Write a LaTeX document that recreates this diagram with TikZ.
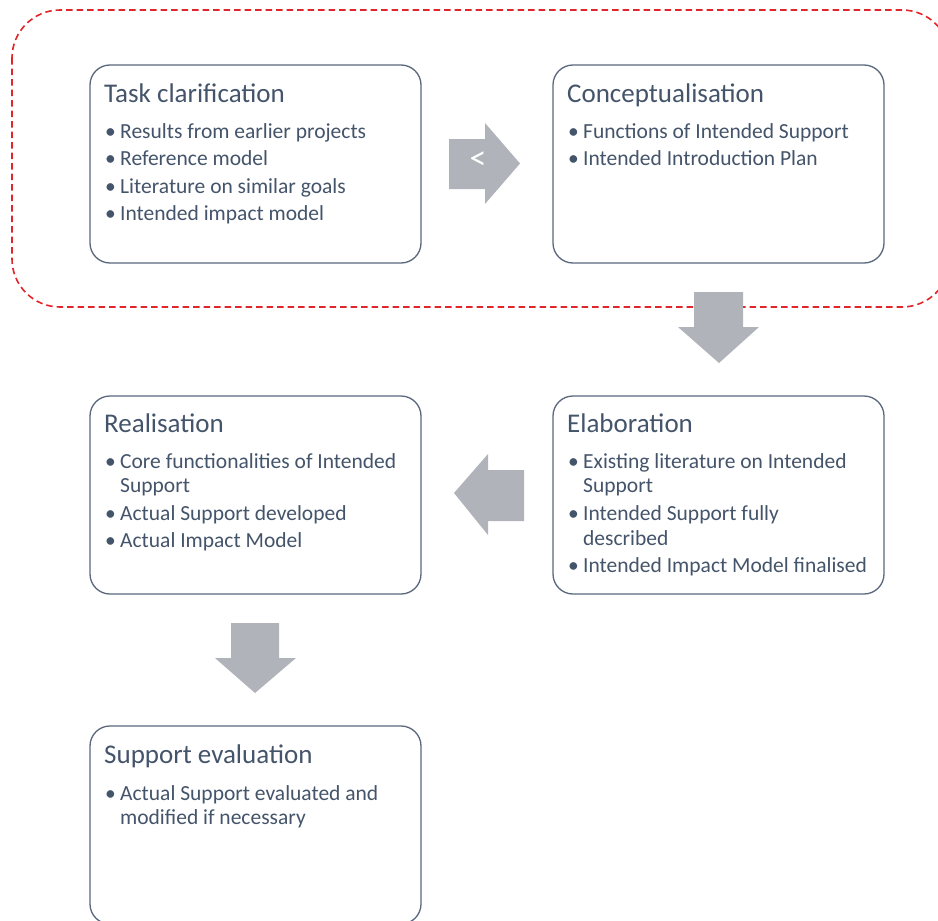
\documentclass[tikz,border=0pt]{standalone}
\usepackage{fontspec}
\setmainfont{Carlito}
\definecolor{slate}{HTML}{44546A}
\definecolor{boxline}{HTML}{5A677C}
\definecolor{arrowgrey}{RGB}{176,179,186}
\definecolor{dashred}{HTML}{E0262A}
\begin{document}
\begin{tikzpicture}[x=1pt,y=-1pt,
  stage/.style={draw=boxline, line width=1.3pt, rounded corners=20pt, fill=white,
    minimum width=331pt, minimum height=198pt, inner sep=0pt},
  title/.style={anchor=base west, inner sep=0pt, text=slate, font=\fontsize{27}{32}\selectfont},
  item/.style={anchor=base west, inner sep=0pt, text=slate, font=\fontsize{21.5}{26}\selectfont},
  blockarrow/.style={fill=arrowgrey, draw=none}]
\useasboundingbox (0,0) rectangle (938,921);
\clip (0,0) rectangle (938,921);

% dashed frame around the first two stages
\draw[dashred, line width=1.6pt, dash pattern=on 6.5pt off 4pt, rounded corners=48pt]
  (12,10) rectangle (950,307);

% stage boxes
\node[stage] (tc) at (255.5,164) {};
\node[stage] (cp) at (718.5,164) {};
\node[stage] (el) at (718.5,495) {};
\node[stage] (re) at (255.5,495) {};
\node[stage] (se) at (255.5,825) {};

% Task clarification
\node[title] (tct) at (104,102) {Task clarification};
\node[item] (tcb1) at (105,138) {•}; \node[item] (tc1) at (120,138) {Results from earlier projects};
\node[item] (tcb2) at (105,165.5) {•}; \node[item] (tc2) at (120,165.5) {Reference model};
\node[item] (tcb3) at (105,193) {•}; \node[item] (tc3) at (120,193) {Literature on similar goals};
\node[item] (tcb4) at (105,220) {•}; \node[item] (tc4) at (120,220) {Intended impact model};

% Conceptualisation
\node[title] (cpt) at (567,102) {Conceptualisation};
\node[item] (cpb1) at (568,138) {•}; \node[item] (cp1) at (583,138) {Functions of Intended Support};
\node[item] (cpb2) at (568,165.5) {•}; \node[item] (cp2) at (583,165.5) {Intended Introduction Plan};

% Elaboration
\node[title] (elt) at (567,432) {Elaboration};
\node[item] (elb1) at (568,468) {•}; \node[item] (el1) at (583,468) {Existing literature on Intended};
\node[item] (el1b) at (583,492) {Support};
\node[item] (elb2) at (568,520) {•}; \node[item] (el2) at (583,520) {Intended Support fully};
\node[item] (el2b) at (583,545) {described};
\node[item] (elb3) at (568,572) {•}; \node[item] (el3) at (583,572) {Intended Impact Model finalised};

% Realisation
\node[title] (ret) at (104,432) {Realisation};
\node[item] (reb1) at (105,468) {•}; \node[item] (re1) at (120,468) {Core functionalities of Intended};
\node[item] (re1b) at (120,492) {Support};
\node[item] (reb2) at (105,520) {•}; \node[item] (re2) at (120,520) {Actual Support developed};
\node[item] (reb3) at (105,547) {•}; \node[item] (re3) at (120,547) {Actual Impact Model};

% Support evaluation
\node[title] (set) at (104,763) {Support evaluation};
\node[item] (seb1) at (105,800) {•}; \node[item] (se1) at (120,800) {Actual Support evaluated and};
\node[item] (se1b) at (120,824) {modified if necessary};

% block arrows between stages
\fill[blockarrow] (449,139) -- (485,139) -- (485,123) -- (520,163.5) -- (485,204) -- (485,189) -- (449,189) -- cycle;
\node[text=white, inner sep=0pt, font=\fontsize{34}{38}\selectfont] (lt) at (478,161) {<};
\fill[blockarrow] (694,292) -- (743,292) -- (743,327) -- (759,327) -- (719,363) -- (678,327) -- (694,327) -- cycle;
\fill[blockarrow] (524,470) -- (488,470) -- (488,454) -- (454,493) -- (488,535) -- (488,521) -- (524,521) -- cycle;
\fill[blockarrow] (231,623) -- (279,623) -- (279,658) -- (296,658) -- (255,693) -- (215,658) -- (231,658) -- cycle;
\end{tikzpicture}
\end{document}
